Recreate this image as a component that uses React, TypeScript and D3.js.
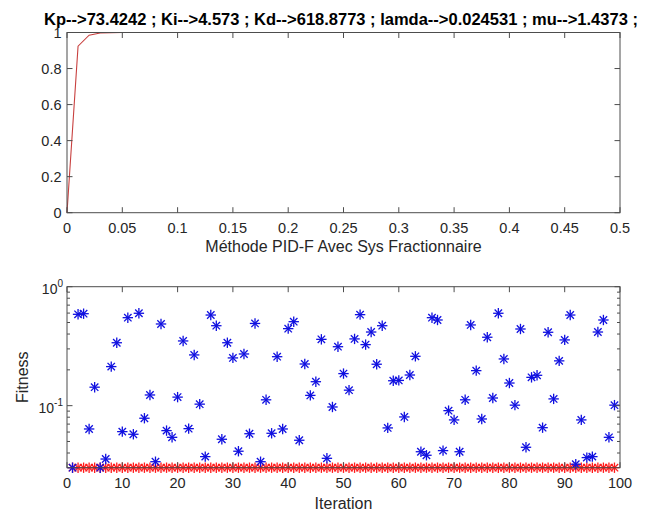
import React from "react";
import * as d3 from "d3";

// ---------- data ----------
const titleText =
  "Kp-->73.4242 ; Ki-->4.573 ; Kd-->618.8773 ; lamda-->0.024531 ; mu-->1.4373 ;";
const topXLabel = "Méthode PID-F Avec Sys Fractionnaire";
const bottomXLabel = "Iteration";
const bottomYLabel = "Fitness";

const stepTimes = [0, 0.01, 0.02, 0.03, 0.04, 0.05, 0.5];
const stepValues = [0, 0.924, 0.985, 0.997, 0.999, 1, 1];

const topXTicks = [0, 0.05, 0.1, 0.15, 0.2, 0.25, 0.3, 0.35, 0.4, 0.45, 0.5];
const topXTickLabels = ["0", "0.05", "0.1", "0.15", "0.2", "0.25", "0.3", "0.35", "0.4", "0.45", "0.5"];
const topYTicks = [0, 0.2, 0.4, 0.6, 0.8, 1];
const topYTickLabels = ["0", "0.2", "0.4", "0.6", "0.8", "1"];

const bottomXTicks = [0, 10, 20, 30, 40, 50, 60, 70, 80, 90, 100];
const bottomYMajor = [1, 0.1];
const bottomYExponents = ["0", "-1"];
const bottomYMinor = [0.04, 0.05, 0.06, 0.07, 0.08, 0.09, 0.2, 0.3, 0.4, 0.5, 0.6, 0.7, 0.8, 0.9];

const fitness = [
  0.0301, 0.586, 0.593, 0.0637, 0.143, 0.0301, 0.0356, 0.213, 0.338, 0.0605,
  0.549, 0.0575, 0.598, 0.0784, 0.123, 0.0338, 0.486, 0.0617, 0.0542, 0.118,
  0.35, 0.0641, 0.267, 0.103, 0.0373, 0.578, 0.47, 0.0522, 0.338, 0.252,
  0.0414, 0.272, 0.0581, 0.491, 0.0338, 0.112, 0.0586, 0.258, 0.0637, 0.444,
  0.508, 0.0512, 0.224, 0.122, 0.159, 0.361, 0.0361, 0.0975, 0.313, 0.186,
  0.135, 0.364, 0.582, 0.326, 0.416, 0.223, 0.47, 0.065, 0.162, 0.163,
  0.0804, 0.181, 0.26, 0.041, 0.0383, 0.549, 0.525, 0.0419, 0.0908, 0.0759,
  0.041, 0.112, 0.477, 0.197, 0.0773, 0.376, 0.116, 0.598, 0.247, 0.155,
  0.101, 0.441, 0.0447, 0.173, 0.18, 0.0653, 0.414, 0.114, 0.238, 0.357,
  0.578, 0.0322, 0.0759, 0.0366, 0.0373, 0.416, 0.525, 0.0542, 0.101,
];
const bestFitness = [
  0.0301, 0.0301, 0.0301, 0.0301, 0.0301, 0.0301, 0.0301, 0.0301, 0.0301, 0.0301,
  0.0301, 0.0301, 0.0301, 0.0301, 0.0301, 0.0301, 0.0301, 0.0301, 0.0301, 0.0301,
  0.0301, 0.0301, 0.0301, 0.0301, 0.0301, 0.0301, 0.0301, 0.0301, 0.0301, 0.0301,
  0.0301, 0.0301, 0.0301, 0.0301, 0.0301, 0.0301, 0.0301, 0.0301, 0.0301, 0.0301,
  0.0301, 0.0301, 0.0301, 0.0301, 0.0301, 0.0301, 0.0301, 0.0301, 0.0301, 0.0301,
  0.0301, 0.0301, 0.0301, 0.0301, 0.0301, 0.0301, 0.0301, 0.0301, 0.0301, 0.0301,
  0.0301, 0.0301, 0.0301, 0.0301, 0.0301, 0.0301, 0.0301, 0.0301, 0.0301, 0.0301,
  0.0301, 0.0301, 0.0301, 0.0301, 0.0301, 0.0301, 0.0301, 0.0301, 0.0301, 0.0301,
  0.0301, 0.0301, 0.0301, 0.0301, 0.0301, 0.0301, 0.0301, 0.0301, 0.0301, 0.0301,
  0.0301, 0.0301, 0.0301, 0.0301, 0.0301, 0.0301, 0.0301, 0.0301, 0.0301,
];
const yMinBottom = 0.0301;

// ---------- layout ----------
const W = 646;
const H = 511;
const L = 67;
const R = 620;
const TOP1 = 32.5;
const BOT1 = 212.7;
const TOP2 = 286.7;
const BOT2 = 467.7;
const FONT = "'Liberation Sans', Arial, Helvetica, sans-serif";
const AX = "#4d4d4d";
const TXT = "#262626";
const TICK = 5.5;

function Star({ x, y, color }: { x: number; y: number; color: string }) {
  const r = 5.2;
  const d = 3.7;
  return (
    <g stroke={color} strokeWidth={1.3}>
      <line x1={x - r} y1={y} x2={x + r} y2={y} />
      <line x1={x} y1={y - r} x2={x} y2={y + r} />
      <line x1={x - d} y1={y - d} x2={x + d} y2={y + d} />
      <line x1={x - d} y1={y + d} x2={x + d} y2={y - d} />
    </g>
  );
}

export default function App() {
  const x1 = d3.scaleLinear().domain([0, 0.5]).range([L, R]);
  const y1 = d3.scaleLinear().domain([0, 1]).range([BOT1, TOP1]);
  const line1 = d3
    .line<number>()
    .x((_, i) => x1(stepTimes[i]))
    .y((v) => y1(v));

  const x2 = d3.scaleLinear().domain([0, 100]).range([L, R]);
  const y2 = d3.scaleLog().domain([yMinBottom, 1]).range([BOT2, TOP2]);
  const iters = fitness.map((_, i) => i + 1);

  return (
    <svg
      width={W}
      height={H}
      style={{ position: "fixed", left: 0, top: 0, background: "#fff" }}
      fontFamily={FONT}
    >
      <rect x={0} y={0} width={W} height={H} fill="#fff" />

      {/* ---------- top chart ---------- */}
      <path d={line1(stepValues) || ""} fill="none" stroke="#c8403f" strokeWidth={1.1} />
      <rect x={L} y={TOP1} width={R - L} height={BOT1 - TOP1} fill="none" stroke={AX} strokeWidth={1} />
      {topXTicks.map((t, i) => (
        <g key={"tx" + i}>
          <line x1={x1(t)} x2={x1(t)} y1={BOT1} y2={BOT1 - TICK} stroke={AX} />
          <line x1={x1(t)} x2={x1(t)} y1={TOP1} y2={TOP1 + TICK} stroke={AX} />
          <text x={x1(t)} y={233} textAnchor="middle" fontSize={14.5} fill={TXT}>
            {topXTickLabels[i]}
          </text>
        </g>
      ))}
      {topYTicks.map((t, i) => (
        <g key={"ty" + i}>
          <line x1={L} x2={L + TICK} y1={y1(t)} y2={y1(t)} stroke={AX} />
          <line x1={R} x2={R - TICK} y1={y1(t)} y2={y1(t)} stroke={AX} />
          <text x={61.5} y={y1(t)} dy="0.36em" textAnchor="end" fontSize={14.5} fill={TXT}>
            {topYTickLabels[i]}
          </text>
        </g>
      ))}
      <text x={(L + R) / 2} y={252} textAnchor="middle" fontSize={16} fill={TXT}>
        {topXLabel}
      </text>
      <text x={341} y={25} textAnchor="middle" fontSize={16.5} fontWeight="bold" fill="#000">
        {titleText}
      </text>

      {/* ---------- bottom chart ---------- */}
      {bestFitness.map((v, i) => (
        <Star key={"r" + i} x={x2(iters[i])} y={y2(v)} color="#ff1a1a" />
      ))}
      {fitness.map((v, i) => (
        <Star key={"b" + i} x={x2(iters[i])} y={y2(v)} color="#1010e0" />
      ))}
      <rect x={L} y={TOP2} width={R - L} height={BOT2 - TOP2} fill="none" stroke={AX} strokeWidth={1} />
      {bottomXTicks.map((t, i) => (
        <g key={"bx" + i}>
          <line x1={x2(t)} x2={x2(t)} y1={BOT2} y2={BOT2 - TICK} stroke={AX} />
          <line x1={x2(t)} x2={x2(t)} y1={TOP2} y2={TOP2 + TICK} stroke={AX} />
          <text x={x2(t)} y={488} textAnchor="middle" fontSize={14.5} fill={TXT}>
            {String(t)}
          </text>
        </g>
      ))}
      {bottomYMajor.map((t, i) => (
        <g key={"by" + i}>
          <line x1={L} x2={L + TICK} y1={y2(t)} y2={y2(t)} stroke={AX} />
          <line x1={R} x2={R - TICK} y1={y2(t)} y2={y2(t)} stroke={AX} />
          <text x={63} y={y2(t) + 7} textAnchor="end" fontSize={14} fill={TXT}>
            <tspan>10</tspan>
            <tspan dy={-7} fontSize={10}>
              {bottomYExponents[i]}
            </tspan>
          </text>
        </g>
      ))}
      {bottomYMinor.map((t, i) => (
        <g key={"bm" + i}>
          <line x1={L} x2={L + 3} y1={y2(t)} y2={y2(t)} stroke={AX} />
          <line x1={R} x2={R - 3} y1={y2(t)} y2={y2(t)} stroke={AX} />
        </g>
      ))}
      <text x={(L + R) / 2} y={509} textAnchor="middle" fontSize={16} fill={TXT}>
        {bottomXLabel}
      </text>
      <text
        transform={`translate(28, ${(TOP2 + BOT2) / 2}) rotate(-90)`}
        textAnchor="middle"
        fontSize={16}
        fill={TXT}
      >
        {bottomYLabel}
      </text>
    </svg>
  );
}
